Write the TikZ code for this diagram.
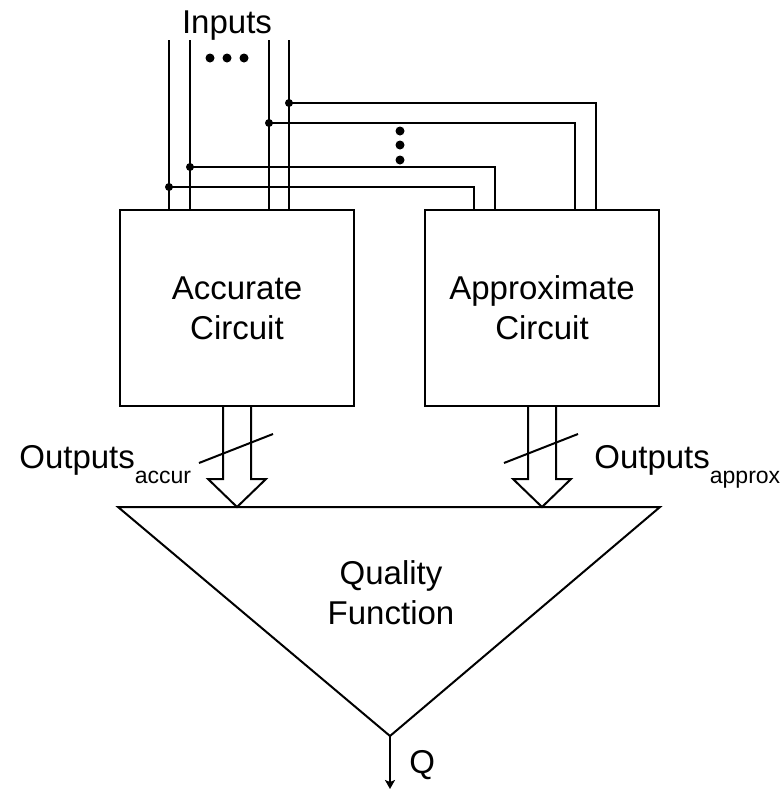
\documentclass[tikz,border=0pt]{standalone}
\usepackage{fontspec}
\setmainfont{Liberation Sans}
\usetikzlibrary{positioning, arrows.meta}
\tikzset{>={Stealth[length=9pt, width=10pt, inset=2pt]}}
\tikzset{circuit/.style={draw, minimum width=234pt, minimum height=196pt, align=center, inner sep=0pt}}
\newcommand{\subtxt}[1]{\raisebox{-15pt}{\fontsize{23}{23}\selectfont #1}}

\begin{document}
\begin{tikzpicture}[x=1pt, y=-1pt, line width=2pt, every node/.style={font=\fontsize{33}{40}\selectfont}]
\useasboundingbox (0,0) rectangle (780,790);
\node[circuit] (acc) at (237,308) {Accurate\\Circuit};
\node[circuit, right=69pt of acc] (app) {Approximate\\Circuit};
\node[anchor=base] (inp) at (227,33) {Inputs};
% inputs, branched to the approximate circuit
\foreach \x/\y/\t in {169/187/474, 190/167/495, 269/123/575, 289/103/596} {
\draw (\x,40) -- (\x,40 |- acc.north);
\fill (\x,\y) circle (4pt);
\draw (\x,\y) -| (\t,\y |- app.north);
}
\foreach \x in {210,227,244} \fill (\x,58) circle (4.5pt);
\foreach \y in {131,145,160} \fill (400,\y) circle (4.5pt);
% outputs
\foreach \b in {acc,app} {
\draw ([xshift=-14pt]\b.south) -- ++(0,72) -- ++(-15,0) -- ++(29,28) -- ++(29,-28) -- ++(-15,0) -- ++(0,-72);
\draw ([shift={(-38,56)}]\b.south) -- ++(74,-29);
}
\node[anchor=base west] (oacc) at (15,468) {Outputs\subtxt{accur}};
\node[anchor=base west] (oapp) at (590,468) {Outputs\subtxt{approx}};
% quality function
\coordinate (tl) at (118,507);
\coordinate (tr) at (660,507);
\coordinate (tip) at (390,736);
\coordinate (q) at (390,789);
\draw (tl) -- (tr) -- (tip) -- cycle;
\node[align=center] (qf) at (391,593) {Quality\\Function};
\draw[->] (tip) -- (q);
\node[anchor=base west] (qlbl) at (405,773) {Q};
\end{tikzpicture}
\end{document}
